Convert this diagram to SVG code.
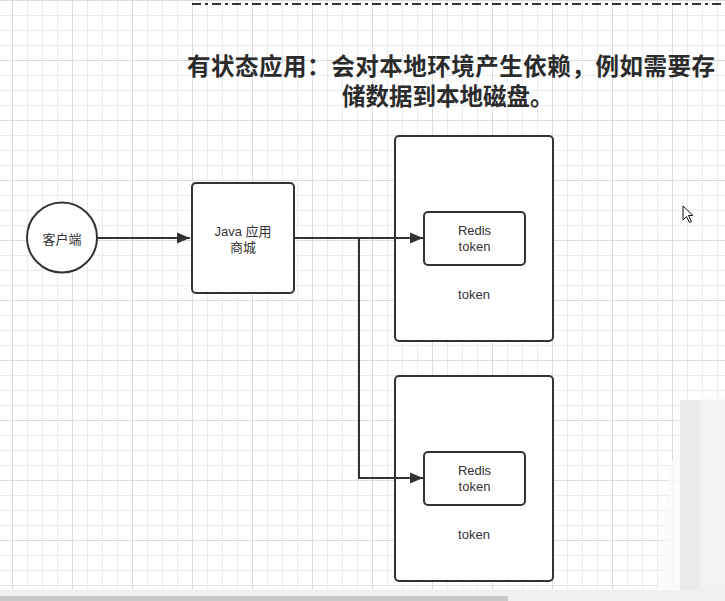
<svg xmlns="http://www.w3.org/2000/svg" width="725" height="601" viewBox="0 0 725 601">
<defs>
<pattern id="grid" x="12" y="0" width="60" height="60" patternUnits="userSpaceOnUse">
<path d="M15.5 0V60M30.5 0V60M45.5 0V60M0 15.5H60M0 30.5H60M0 45.5H60" stroke="#ebebeb" stroke-width="1" fill="none"/>
<path d="M0.5 0V60M0 0.5H60" stroke="#dcdcdc" stroke-width="1" fill="none"/>
</pattern>
<marker id="arr" markerUnits="userSpaceOnUse" markerWidth="14" markerHeight="12" refX="13" refY="6" orient="auto">
<path d="M0 0.5L13 6L0 11.5Z" fill="#333"/>
</marker>
<style>
.box{fill:#fff;stroke:#333;stroke-width:2}
.lbl{font-family:"Liberation Sans","Noto Sans CJK SC",sans-serif;font-size:13px;fill:#333;text-anchor:middle}
.title{font-family:"Noto Sans CJK SC","Liberation Sans",sans-serif;font-size:23.5px;font-weight:bold;fill:#2b2b2b}
.conn{fill:none;stroke:#333;stroke-width:2}
</style>
</defs>
<rect width="725" height="601" fill="#fff"/>
<rect width="725" height="590" fill="url(#grid)"/>
<path d="M192 4H725" stroke="#333" stroke-width="2" stroke-dasharray="9 4 3 4" fill="none"/>
<g id="title">
<text class="title" x="187" y="75" textLength="528" lengthAdjust="spacing">有状态应用：会对本地环境产生依赖，例如需要存</text>
<text class="title" x="342" y="105">储数据到本地磁盘。</text>
</g>
<g id="client">
<circle class="box" cx="62" cy="237.5" r="35"/>
<text class="lbl" x="62" y="243.5">客户端</text>
</g>
<g id="java">
<rect class="box" x="192" y="183" width="102" height="110" rx="4"/>
<text class="lbl" x="243" y="235.5">Java 应用</text>
<text class="lbl" x="243" y="251.5">商城</text>
</g>
<g id="pod1">
<rect class="box" x="395" y="136" width="158" height="205" rx="4"/>
<text class="lbl" x="474" y="299">token</text>
</g>
<g id="redis1">
<rect class="box" x="424" y="212" width="101" height="53" rx="4"/>
<text class="lbl" x="474.5" y="234.5">Redis</text>
<text class="lbl" x="474.5" y="251">token</text>
</g>
<g id="pod2">
<rect class="box" x="395" y="376" width="158" height="205" rx="4"/>
<text class="lbl" x="474" y="539">token</text>
</g>
<g id="redis2">
<rect class="box" x="424" y="452" width="101" height="53" rx="4"/>
<text class="lbl" x="474.5" y="474.5">Redis</text>
<text class="lbl" x="474.5" y="491">token</text>
</g>
<g id="connectors">
<path class="conn" d="M97 238H190" marker-end="url(#arr)"/>
<path class="conn" d="M294 238H423" marker-end="url(#arr)"/>
<path class="conn" d="M359 238V478H423" marker-end="url(#arr)"/>
</g>
<path d="M683 206V220L686.5 216.5L689.5 222.5L691.5 221.5L688.5 215.5H693Z" fill="#fff" stroke="#111" stroke-width="1"/>
<path d="M660 600L668 470L700 395H725V601Z" fill="#fafafa" opacity="0.8"/>
<rect x="680" y="400" width="45" height="190" fill="#ebebeb"/>
<rect x="700" y="400" width="25" height="190" fill="#f2f2f2"/>
<rect x="0" y="590" width="725" height="11" fill="#f0f0f0"/>
<rect x="0" y="596" width="508" height="5" fill="#c8c8c8"/>
</svg>
